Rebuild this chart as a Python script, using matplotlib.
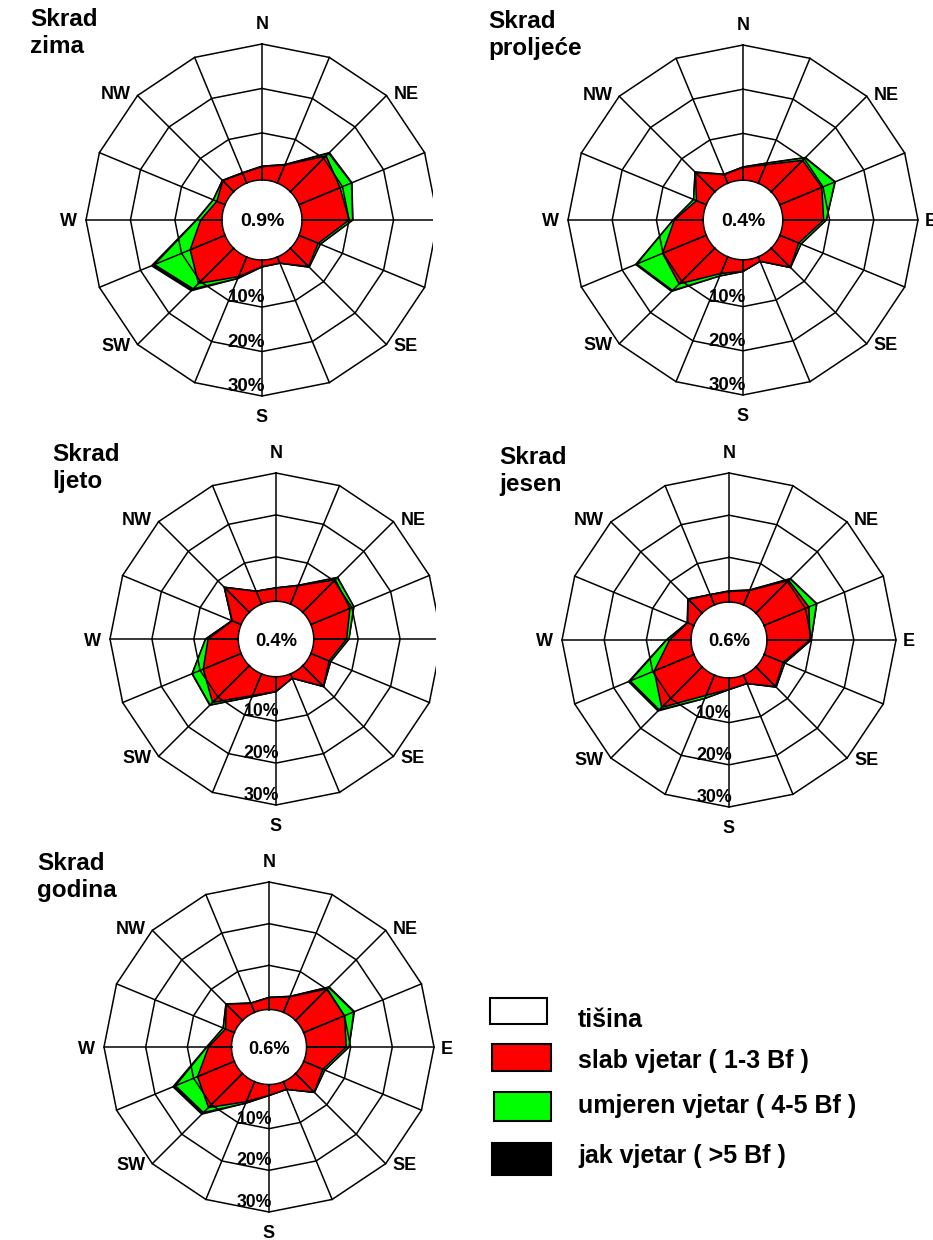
import numpy as np
import matplotlib
matplotlib.use('Agg')
import matplotlib.pyplot as plt
from matplotlib.patches import Rectangle
from matplotlib.transforms import Bbox, TransformedBbox

plt.rcParams['font.family'] = ['Liberation Sans', 'DejaVu Sans']
plt.rcParams['font.weight'] = 'bold'

# 16 smjerova, od N u smjeru kazaljke
smjerovi = ['N', 'NNE', 'NE', 'ENE', 'E', 'ESE', 'SE', 'SSE',
            'S', 'SSW', 'SW', 'WSW', 'W', 'WNW', 'NW', 'NNW']
glavni = ['N', 'NE', 'E', 'SE', 'S', 'SW', 'W', 'NW']
prstenovi = [10, 20, 30]

# čestine (%) po klasama jačine vjetra
zima_slab = [2.4, 3.8, 10.8, 9.4, 10.0, 4.1, 5.2, 0.9, 0.9, 4.2, 10.6, 7.9, 4.2, 1.4, 2.9, 1.8]
zima_umjeren = [0.1, 0.1, 0.8, 2.8, 0.8, 0.5, 0.2, 0.0, 0.05, 0.45, 1.7, 8.7, 0.9, 0.85, 0.1, 0.1]
zima_jak = [0.0, 0.0, 0.25, 0.1, 0.05, 0.0, 0.0, 0.0, 0.0, 0.0, 0.6, 0.7, 0.1, 0.05, 0.0, 0.0]

proljece_slab = [2.3, 3.95, 9.5, 9.7, 8.65, 4.05, 5.55, 0.5, 2.0, 3.5, 10.85, 10.1, 5.95, 1.8, 5.6, 1.5]
proljece_umjeren = [0.1, 0.35, 0.8, 3.2, 0.6, 0.55, 0.05, 0.0, 0.05, 0.6, 2.1, 6.3, 0.25, 0.7, 0.1, 0.1]
proljece_jak = [0.0, 0.05, 0.1, 0.1, 0.0, 0.0, 0.0, 0.0, 0.0, 0.0, 0.3, 0.3, 0.0, 0.0, 0.05, 0.0]

ljeto_slab = [2.55, 4.15, 10.4, 9.5, 7.25, 4.1, 6.4, 0.5, 2.9, 5.0, 11.8, 9.2, 6.6, 1.7, 7.8, 2.7]
ljeto_umjeren = [0.05, 0.1, 0.7, 1.0, 0.55, 0.4, 0.05, 0.0, 0.05, 0.3, 0.85, 2.8, 0.6, 0.1, 0.05, 0.05]
ljeto_jak = [0.0, 0.0, 0.1, 0.0, 0.0, 0.0, 0.0, 0.0, 0.0, 0.0, 0.1, 0.1, 0.0, 0.0, 0.0, 0.0]

jesen_slab = [1.9, 3.1, 10.4, 10.9, 9.6, 4.3, 6.0, 1.55, 2.1, 4.6, 13.0, 9.6, 4.5, 1.0, 4.0, 2.0]
jesen_umjeren = [0.1, 0.1, 0.5, 1.95, 0.3, 0.4, 0.2, 0.0, 0.05, 0.8, 0.8, 6.15, 0.7, 0.1, 0.1, 0.05]
jesen_jak = [0.05, 0.05, 0.1, 0.1, 0.0, 0.0, 0.0, 0.0, 0.0, 0.0, 0.4, 0.45, 0.1, 0.0, 0.1, 0.0]

godina_slab = [2.25, 3.45, 10.15, 10.0, 8.95, 4.4, 5.75, 1.4, 2.0, 4.6, 10.95, 8.95, 4.9, 1.7, 4.9, 1.75]
godina_umjeren = [0.05, 0.1, 0.5, 2.4, 0.65, 0.5, 0.05, 0.0, 0.05, 0.4, 1.7, 5.75, 0.4, 0.6, 0.05, 0.05]
godina_jak = [0.0, 0.0, 0.15, 0.2, 0.0, 0.0, 0.0, 0.0, 0.0, 0.0, 0.55, 0.65, 0.1, 0.0, 0.1, 0.0]

sezone = ['zima', 'proljeće', 'ljeto', 'jesen', 'godina']
tisina = [0.9, 0.4, 0.4, 0.6, 0.6]
podaci = [(zima_slab, zima_umjeren, zima_jak),
          (proljece_slab, proljece_umjeren, proljece_jak),
          (ljeto_slab, ljeto_umjeren, ljeto_jak),
          (jesen_slab, jesen_umjeren, jesen_jak),
          (godina_slab, godina_umjeren, godina_jak)]

legenda = ['tišina', 'slab vjetar ( 1-3 Bf )', 'umjeren vjetar ( 4-5 Bf )', 'jak vjetar ( >5 Bf )']
boje = ['white', '#ff0000', '#00ff00', 'black']

# raspored u pikselima: centar, polumjer, naslov, desna granica slike
W, H = 933, 1240
polozaji = [(262, 220, 176, (30, 8), 433),
            (743, 220, 175, (488, 10), None),
            (276, 639, 166, (52, 443), 436),
            (729, 640, 167, (499, 446), None),
            (269, 1047, 165, (37, 852), None)]

R_CALM = -0.6
R_ORIGIN = -9.6
LW = 1.1

fig = plt.figure(figsize=(W / 100, H / 100), dpi=100)

th = np.deg2rad(np.arange(16) * 22.5)
thc = np.append(th, th[0])


def zatvori(v):
    v = np.asarray(v, dtype=float)
    return np.append(v, v[0])


label_off = {'N': ('center', (0, 15)), 'S': ('center', (0, -26)),
             'E': ('left', (7, -6.5)), 'W': ('right', (-9, -6.5)),
             'NE': ('left', (7, -3.5)), 'NW': ('right', (-7, -3.5)),
             'SE': ('left', (7, -6.5)), 'SW': ('right', (-7, -6.5))}

for (slab, umj, jak), sez, calm, (cx, cy, R, (tx, ty), clip_x) in zip(podaci, sezone, tisina, polozaji):
    ax = fig.add_axes([(cx - R) / W, 1 - (cy + R) / H, 2 * R / W, 2 * R / H], projection='polar')
    ax.set_theta_zero_location('N')
    ax.set_theta_direction(-1)

    # mreža
    for p in prstenovi:
        ax.plot(thc, np.full(17, p), color='black', lw=LW, clip_on=False)
    for t in th:
        ax.plot([t, t], [R_CALM, prstenovi[-1]], color='black', lw=LW, clip_on=False)

    c1 = np.asarray(slab)
    c2 = c1 + np.asarray(umj)
    c3 = c2 + np.asarray(jak)
    ax.fill(thc, zatvori(c3), facecolor='black', edgecolor='black', lw=LW, clip_on=False)
    ax.fill(thc, zatvori(c2), facecolor='#00ff00', edgecolor='black', lw=LW, clip_on=False)
    ax.fill(thc, zatvori(c1), facecolor='#ff0000', edgecolor='black', lw=LW, clip_on=False)
    for t, v in zip(th, c1):
        ax.plot([t, t], [R_CALM, v], color='black', lw=LW, clip_on=False)

    tt = np.linspace(0, 2 * np.pi, 241)
    ax.fill(tt, np.full(tt.size, R_CALM), facecolor='white', edgecolor='black', lw=LW, clip_on=False)

    sc = R / 176
    ax.text(0.5, 0.5, f'{calm:.1f}%', transform=ax.transAxes, ha='center', va='center_baseline',
            fontsize=14 * sc, fontweight='bold')
    for p in prstenovi:
        ax.annotate(f'{p}%', xy=(np.pi, p), xytext=(3, 5), textcoords='offset pixels',
                    ha='right', va='baseline', fontsize=13.5 * sc, fontweight='bold')
    for g in glavni:
        ha, off = label_off[g]
        ax.annotate(g, xy=(th[smjerovi.index(g)], prstenovi[-1]), xytext=off,
                    textcoords='offset pixels', ha=ha, va='baseline',
                    fontsize=13, fontweight='bold', annotation_clip=False)

    ax.set_ylim(R_CALM, prstenovi[-1])
    ax.set_rorigin(R_ORIGIN)
    ax.axis('off')

    if clip_x is not None:
        bb = TransformedBbox(Bbox.from_extents(0, 0, clip_x / W, 1), fig.transFigure)
        for a in list(ax.lines) + list(ax.patches) + list(ax.texts):
            a.set_clip_on(True)
            a.set_clip_path(None)
            a.set_clip_box(bb)

    fig.text(tx / W, 1 - ty / H, f'Skrad\n{sez}', ha='left', va='top', fontsize=17.5,
             fontweight='bold', linespacing=1.2)

# legenda
kutije = [(490, 998, 57, 26), (492, 1044, 59, 27), (494, 1092, 57, 29), (492, 1143, 59, 32)]
tekst_y = [1027, 1068, 1113, 1163]
for (bx, by, bw, bh), boja, lab, ty in zip(kutije, boje, legenda, tekst_y):
    fig.add_artist(Rectangle((bx / W, 1 - (by + bh) / H), bw / W, bh / H, transform=fig.transFigure,
                             facecolor=boja, edgecolor='black', lw=1.5))
    fig.text(578 / W, 1 - ty / H, lab, ha='left', va='baseline', fontsize=18, fontweight='bold')

fig.savefig('out.png', dpi=100, facecolor='white')
